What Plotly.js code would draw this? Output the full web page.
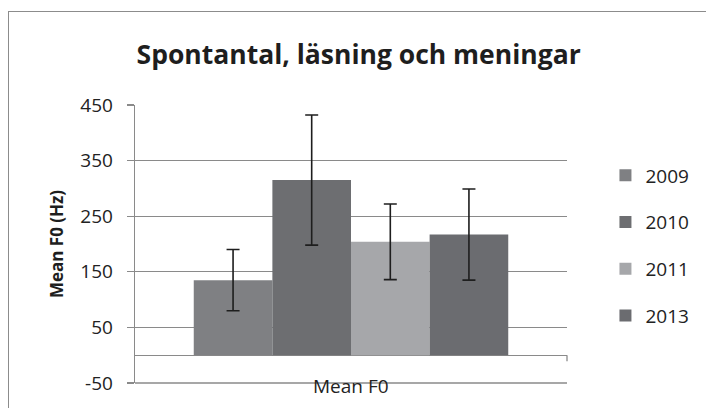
<!DOCTYPE html>
<html>
<head>
<meta charset="utf-8">
<script src="https://cdn.plot.ly/plotly-3.0.1.min.js"></script>
<style>
  html, body { margin: 0; padding: 0; background: #fff; }
  #wrap { position: relative; width: 706px; height: 408px; overflow: hidden; }
  #chart { position: absolute; left: 0; top: 0; width: 706px; height: 408px; }
  #frame { position: absolute; left: 8px; top: 11px; width: 720px; height: 420px;
           border-left: 1.5px solid #8c8c8c; border-top: 1.5px solid #8c8c8c; pointer-events: none; }
</style>
</head>
<body>
<div id="wrap">
  <div id="chart"></div>
  <div id="frame"></div>
</div>
<script>
// ---- data ----
const categories = ["Mean F0"];
const seriesNames = ["2009", "2010", "2011", "2013"];
const values2009 = [135];
const values2010 = [315];
const values2011 = [204];
const values2013 = [217];
const err2009 = [55];
const err2010 = [117];
const err2011 = [68];
const err2013 = [82];
const yTicks = [-50, 50, 150, 250, 350, 450];

const seriesValues = [values2009, values2010, values2011, values2013];
const seriesErrors = [err2009, err2010, err2011, err2013];
const colors = ["#7f8083", "#6d6e71", "#a6a7aa", "#6b6c70"];

const font = "'Open Sans', 'Noto Sans', sans-serif";

const traces = seriesNames.map((name, i) => ({
  type: "bar",
  name: name,
  x: categories,
  y: seriesValues[i],
  legendgroup: "g" + i,
  marker: { color: colors[i], line: { width: 0 } },
  error_y: { type: "data", array: seriesErrors[i], visible: true,
             color: "#1e1e1e", thickness: 1.6, width: 6.5 },
  hoverinfo: "skip"
}));

const layout = {
  width: 706, height: 408,
  margin: { l: 135, r: 133, t: 105, b: 25 },
  paper_bgcolor: "#ffffff",
  plot_bgcolor: "#ffffff",
  font: { family: font, color: "#222222", size: 19 },
  title: { text: "<b>Spontantal, läsning och meningar</b>",
           font: { family: font, size: 26.5, color: "#1e1e1e" },
           x: 0.508, xanchor: "center", y: 0.865, yanchor: "middle" },
  barmode: "group",
  bargap: 0.272,
  bargroupgap: 0,
  showlegend: true,
  legend: { x: 1.089, xanchor: "left", y: 0.815, yanchor: "top",
            font: { family: font, size: 19, color: "#222222" },
            traceorder: "grouped", tracegroupgap: 19, itemwidth: 30,
            bgcolor: "rgba(0,0,0,0)" },
  xaxis: { type: "category", showticklabels: false, ticks: "",
           showgrid: false, zeroline: false, showline: false, fixedrange: true },
  yaxis: { range: [-50, 450], tickvals: yTicks, ticktext: yTicks.map(String),
           ticks: "outside", ticklen: 7, tickcolor: "#8a8a8a", tickwidth: 1.3,
           ticklabelstandoff: 10,
           showline: true, linecolor: "#8a8a8a", linewidth: 1.3,
           showgrid: true, gridcolor: "#8a8a8a", gridwidth: 1.3,
           zeroline: true, zerolinecolor: "#8a8a8a", zerolinewidth: 1.3,
           tickfont: { family: font, size: 19, color: "#222222" },
           title: { text: "<b>Mean F0 (Hz)</b>", font: { family: font, size: 17, color: "#1e1e1e" }, standoff: 12 },
           fixedrange: true },
  shapes: [
    { type: "line", xref: "paper", yref: "y", x0: 1, x1: 1, y0: 0, y1: -11,
      line: { color: "#8a8a8a", width: 1.3 } },
    { type: "line", xref: "paper", yref: "paper", x0: 0, x1: 1, y0: 0, y1: 0,
      line: { color: "#8a8a8a", width: 1.3 } }
  ],
  annotations: [
    { text: categories[0], xref: "x", yref: "paper", x: categories[0], y: -0.01,
      yanchor: "middle", xanchor: "center", showarrow: false,
      font: { family: font, size: 19, color: "#222222" } }
  ]
};

Plotly.newPlot("chart", traces, layout, { displayModeBar: false, staticPlot: true });
</script>
</body>
</html>
